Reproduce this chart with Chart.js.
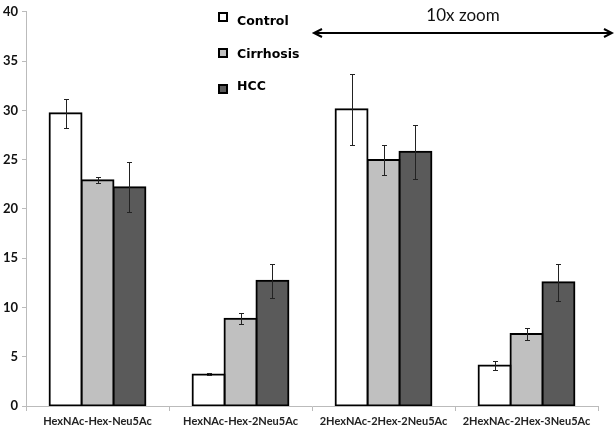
<!DOCTYPE html>
<html>
<head>
<meta charset="utf-8">
<script src="https://cdn.jsdelivr.net/npm/chart.js@4/dist/chart.umd.min.js"></script>
<style>
  body { margin: 0; background: #fff; }
  #wrap { width: 614px; height: 427px; }
</style>
</head>
<body>
<div id="wrap"><canvas id="chart" width="614" height="427"></canvas></div>
<script>
const categories = ["HexNAc-Hex-Neu5Ac", "HexNAc-Hex-2Neu5Ac", "2HexNAc-2Hex-2Neu5Ac", "2HexNAc-2Hex-3Neu5Ac"];
const controlValues = [29.7, 3.2, 30.1, 4.1];
const cirrhosisValues = [22.9, 8.85, 24.95, 7.3];
const hccValues = [22.2, 12.7, 25.8, 12.55];
const controlErr = [1.45, 0.1, 3.6, 0.47];
const cirrhosisErr = [0.3, 0.55, 1.5, 0.6];
const hccErr = [2.55, 1.75, 2.75, 1.85];
const yTicks = [0, 5, 10, 15, 20, 25, 30, 35, 40];
const zoomLabel = "10x zoom";

const errors = [controlErr, cirrhosisErr, hccErr];

// error bars drawn from the bar elements and y scale
const errorBars = {
  id: "errorBars",
  afterDatasetsDraw(chart) {
    const ctx = chart.ctx;
    const y = chart.scales.y;
    ctx.save();
    ctx.strokeStyle = "#222";
    ctx.lineWidth = 1;
    chart.data.datasets.forEach((ds, i) => {
      chart.getDatasetMeta(i).data.forEach((bar, j) => {
        const v = ds.data[j], e = errors[i][j];
        const top = Math.round(y.getPixelForValue(v + e)) + 0.5;
        const bot = Math.round(y.getPixelForValue(v - e)) + 0.5;
        const x = Math.round(bar.x) + 0.5;
        ctx.beginPath();
        ctx.moveTo(x, top); ctx.lineTo(x, bot);
        ctx.moveTo(x - 2.5, top); ctx.lineTo(x + 2.5, top);
        ctx.moveTo(x - 2.5, bot); ctx.lineTo(x + 2.5, bot);
        ctx.stroke();
      });
    });
    ctx.restore();
  }
};

// legend squares + labels, and the "10x zoom" arrow
const extras = {
  id: "extras",
  afterDraw(chart) {
    const ctx = chart.ctx;
    const x = chart.scales.x;
    ctx.save();
    const rows = [17, 53, 89];
    const textRows = [22, 55, 87];
    chart.data.datasets.forEach((ds, i) => {
      ctx.fillStyle = ds.backgroundColor;
      ctx.fillRect(219, rows[i] - 4, 8, 8);
      ctx.strokeStyle = "#000";
      ctx.lineWidth = 2;
      ctx.strokeRect(219, rows[i] - 4, 8, 8);
      ctx.fillStyle = "#000";
      ctx.font = "bold 12.5px 'DejaVu Sans'";
      ctx.textBaseline = "middle";
      ctx.textAlign = "left";
      ctx.fillText(ds.label, 237, textRows[i]);
    });

    const x0 = x.getPixelForValue(1.5) + 2;
    const x1 = chart.width - 2;
    const ay = 33;
    ctx.strokeStyle = "#000";
    ctx.lineWidth = 2;
    ctx.beginPath();
    ctx.moveTo(x0, ay); ctx.lineTo(x1, ay);
    ctx.moveTo(x0 + 8, ay - 4); ctx.lineTo(x0, ay); ctx.lineTo(x0 + 8, ay + 4);
    ctx.moveTo(x1 - 8, ay - 4); ctx.lineTo(x1, ay); ctx.lineTo(x1 - 8, ay + 4);
    ctx.stroke();
    ctx.fillStyle = "#111";
    ctx.font = "17px Lato";
    ctx.textAlign = "center";
    ctx.textBaseline = "middle";
    ctx.fillText(zoomLabel, (x0 + x1) / 2, 16);
    ctx.restore();
  }
};

new Chart(document.getElementById("chart"), {
  type: "bar",
  data: {
    labels: categories,
    datasets: [
      { label: "Control", data: controlValues, backgroundColor: "#ffffff" },
      { label: "Cirrhosis", data: cirrhosisValues, backgroundColor: "#c0c0c0" },
      { label: "HCC", data: hccValues, backgroundColor: "#5a5a5a" },
    ].map(d => Object.assign(d, {
      borderColor: "#000",
      borderWidth: 2,
      borderSkipped: false,
      inflateAmount: 1,
      categoryPercentage: 0.67,
      barPercentage: 1.0,
    })),
  },
  options: {
    responsive: false,
    animation: false,
    layout: { padding: { top: 6, right: 16, left: 0, bottom: 0 } },
    plugins: { legend: { display: false }, tooltip: { enabled: false } },
    scales: {
      x: {
        grid: { display: true, drawOnChartArea: false, offset: true, tickLength: 5, color: "#bbb" },
        border: { color: "#bbb" },
        ticks: { color: "#222", font: { family: "Lato", weight: "bold", size: 11 }, padding: 4, maxRotation: 0 },
        afterFit(s) { s.height = 21; },
      },
      y: {
        min: 0,
        max: 40,
        afterBuildTicks(s) { s.ticks = yTicks.map(v => ({ value: v })); },
        grid: { display: true, drawOnChartArea: false, tickLength: 4, color: "#bbb" },
        border: { color: "#bbb" },
        ticks: { color: "#111", font: { family: "Lato", weight: "bold", size: 13 }, padding: 4 },
        afterFit(s) { s.width = 26; },
      },
    },
  },
  plugins: [errorBars, extras],
});
</script>
</body>
</html>
